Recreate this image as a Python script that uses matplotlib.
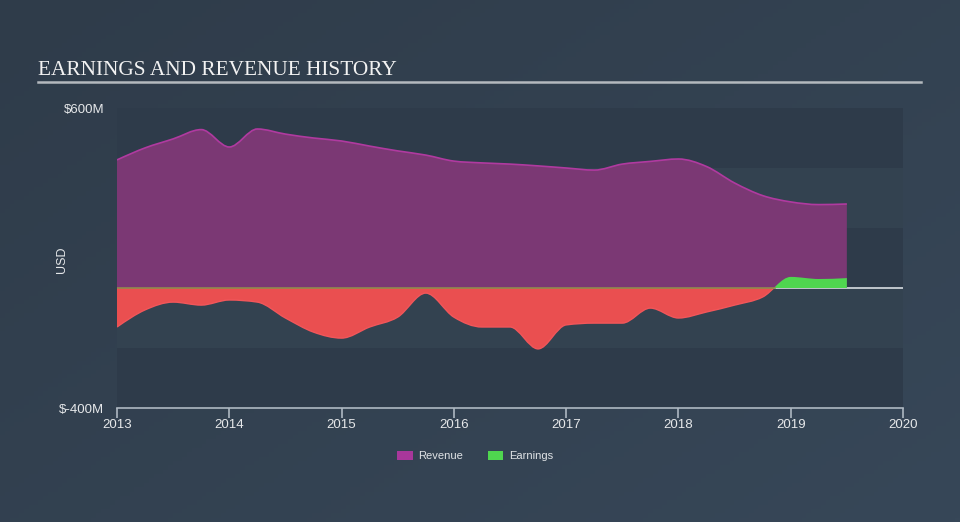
import matplotlib.pyplot as plt
import numpy as np
from matplotlib.path import Path
from matplotlib.patches import PathPatch, Patch, Rectangle

# quarterly history (USD millions)
dates = [2013.0, 2013.25, 2013.5, 2013.75, 2014.0, 2014.25, 2014.5, 2014.75,
         2015.0, 2015.25, 2015.5, 2015.75, 2016.0, 2016.25, 2016.5, 2016.75,
         2017.0, 2017.25, 2017.5, 2017.75, 2018.0, 2018.25, 2018.5, 2018.75,
         2019.0, 2019.25, 2019.5]
revenue = [427, 467, 497, 528, 470, 530, 513, 500,
           490, 473, 457, 443, 423, 417, 413, 407,
           400, 393, 413, 422, 430, 405, 350, 308,
           287, 278, 280]
earnings = [-130, -73, -47, -57, -40, -47, -100, -147,
            -167, -130, -97, -17, -97, -130, -130, -203,
            -123, -117, -117, -67, -100, -80, -57, -30,
            37, 30, 33]

years = [2013, 2014, 2015, 2016, 2017, 2018, 2019, 2020]
y_ticks = [-400, 600]
y_labels = ['$-400M', '$600M']


def monotone_path(x, y, close_to_zero=False):
    # d3-style monotoneX curve as cubic bezier segments
    x = np.asarray(x, float)
    y = np.asarray(y, float)
    h = np.diff(x)
    s = np.diff(y) / h
    n = len(x)
    t = np.zeros(n)
    for i in range(1, n - 1):
        s0, s1 = s[i - 1], s[i]
        p = (s0 * h[i] + s1 * h[i - 1]) / (h[i - 1] + h[i])
        t[i] = (np.sign(s0) + np.sign(s1)) * min(abs(s0), abs(s1), 0.5 * abs(p))
    t[0] = (3 * s[0] - t[1]) / 2
    t[-1] = (3 * s[-1] - t[-2]) / 2
    verts = [(x[0], y[0])]
    codes = [Path.MOVETO]
    for i in range(n - 1):
        d = h[i] / 3
        verts += [(x[i] + d, y[i] + t[i] * d), (x[i + 1] - d, y[i + 1] - t[i + 1] * d), (x[i + 1], y[i + 1])]
        codes += [Path.CURVE4] * 3
    if close_to_zero:
        verts += [(x[-1], 0), (x[0], 0), (x[0], y[0])]
        codes += [Path.LINETO, Path.LINETO, Path.CLOSEPOLY]
    return Path(verts, codes)


fig = plt.figure(figsize=(9.6, 5.22), dpi=100)

# background gradient
bg = fig.add_axes([0, 0, 1, 1], zorder=-10)
gx, gy = np.meshgrid(np.linspace(0, 1, 200), np.linspace(0, 1, 120))
g = 0.55 * gx + 0.45 * gy
c0 = np.array([0x2f, 0x3c, 0x4a]) / 255
c1 = np.array([0x37, 0x47, 0x58]) / 255
img = c0[None, None, :] * (1 - g[..., None]) + c1[None, None, :] * g[..., None]
bg.imshow(img, aspect='auto', extent=[0, 1, 0, 1], origin='upper')
bg.axis('off')

ax = fig.add_axes([117 / 960, 1 - 408 / 522, 786 / 960, 300 / 522])
ax.set_facecolor('none')
ax.set_xlim(2013, 2020)
ax.set_ylim(-400, 600)

# alternating bands
band_cols = ['#2e3b4a', '#334250', '#2e3b4a', '#334250', '#2e3b4a']
for i, lo in enumerate(range(400, -600, -200)):
    ax.axhspan(lo, lo + 200, color=band_cols[i], lw=0, zorder=0)

ax.axhline(0, color='#d8dde2', lw=1.2, zorder=1)

rev_fill = PathPatch(monotone_path(dates, revenue, True), facecolor='#7b3874', edgecolor='none', zorder=2)
ax.add_patch(rev_fill)
ax.add_patch(PathPatch(monotone_path(dates, revenue), facecolor='none', edgecolor='#b03aa0', lw=1.2, zorder=3))

neg = PathPatch(monotone_path(dates, earnings, True), facecolor='#ea4f50', edgecolor='none', zorder=2)
ax.add_patch(neg)
neg.set_clip_path(Rectangle((2013, -400), 7, 400, transform=ax.transData))
pos = PathPatch(monotone_path(dates, earnings, True), facecolor='#4fd64f', edgecolor='none', zorder=2)
ax.add_patch(pos)
pos.set_clip_path(Rectangle((2013, 0), 7, 600, transform=ax.transData))
eline = PathPatch(monotone_path(dates, earnings), facecolor='none', edgecolor='#f2565a', lw=1.0, zorder=3)
ax.add_patch(eline)
eline.set_clip_path(Rectangle((2013, -400), 7, 400, transform=ax.transData))
ax.plot([2013, 2018.86], [0, 0], color='#8f8a4e', lw=1.2, zorder=4)

for side in ['top', 'right', 'left']:
    ax.spines[side].set_visible(False)
ax.spines['bottom'].set_color('#aeb8c2')
ax.spines['bottom'].set_linewidth(1.2)
ax.set_xticks(years)
ax.set_xticklabels([str(y) for y in years])
ax.tick_params(axis='x', colors='#aeb8c2', length=7, width=1.2, labelcolor='#e6e8ea', labelsize=9.5, pad=1)
ax.set_yticks(y_ticks)
ax.set_yticklabels(y_labels)
ax.tick_params(axis='y', length=0, labelcolor='#e6e8ea', labelsize=9.5, pad=9)
for lab in ax.get_xticklabels() + ax.get_yticklabels():
    lab.set_family('Liberation Sans')
ax.set_ylabel('USD', color='#e6e8ea', fontsize=9, family='Liberation Sans')
ax.yaxis.set_label_coords((68 - 117) / 786, 0.493)

fig.text(38 / 960, 1 - 75 / 522, 'EARNINGS AND REVENUE HISTORY', color='#f2f2f2',
         fontsize=15.3, family='Liberation Serif', ha='left', va='baseline')
fig.add_artist(plt.Line2D([38 / 960, 921 / 960], [1 - 82 / 522, 1 - 82 / 522],
                          color='#b4b9be', lw=1.8))

handles = [Patch(facecolor='#a8379b', edgecolor='none', label='Revenue'),
           Patch(facecolor='#4fd64f', edgecolor='none', label='Earnings')]
leg = fig.legend(handles=handles, loc='center', bbox_to_anchor=(475 / 960, 1 - 456 / 522), ncol=2,
                 frameon=False, handlelength=1.4, handleheight=0.9, handletextpad=0.5,
                 columnspacing=2.2, prop={'family': 'Liberation Sans', 'size': 8})
for t in leg.get_texts():
    t.set_color('#e0e3e6')

fig.savefig('out.png', dpi=100)
